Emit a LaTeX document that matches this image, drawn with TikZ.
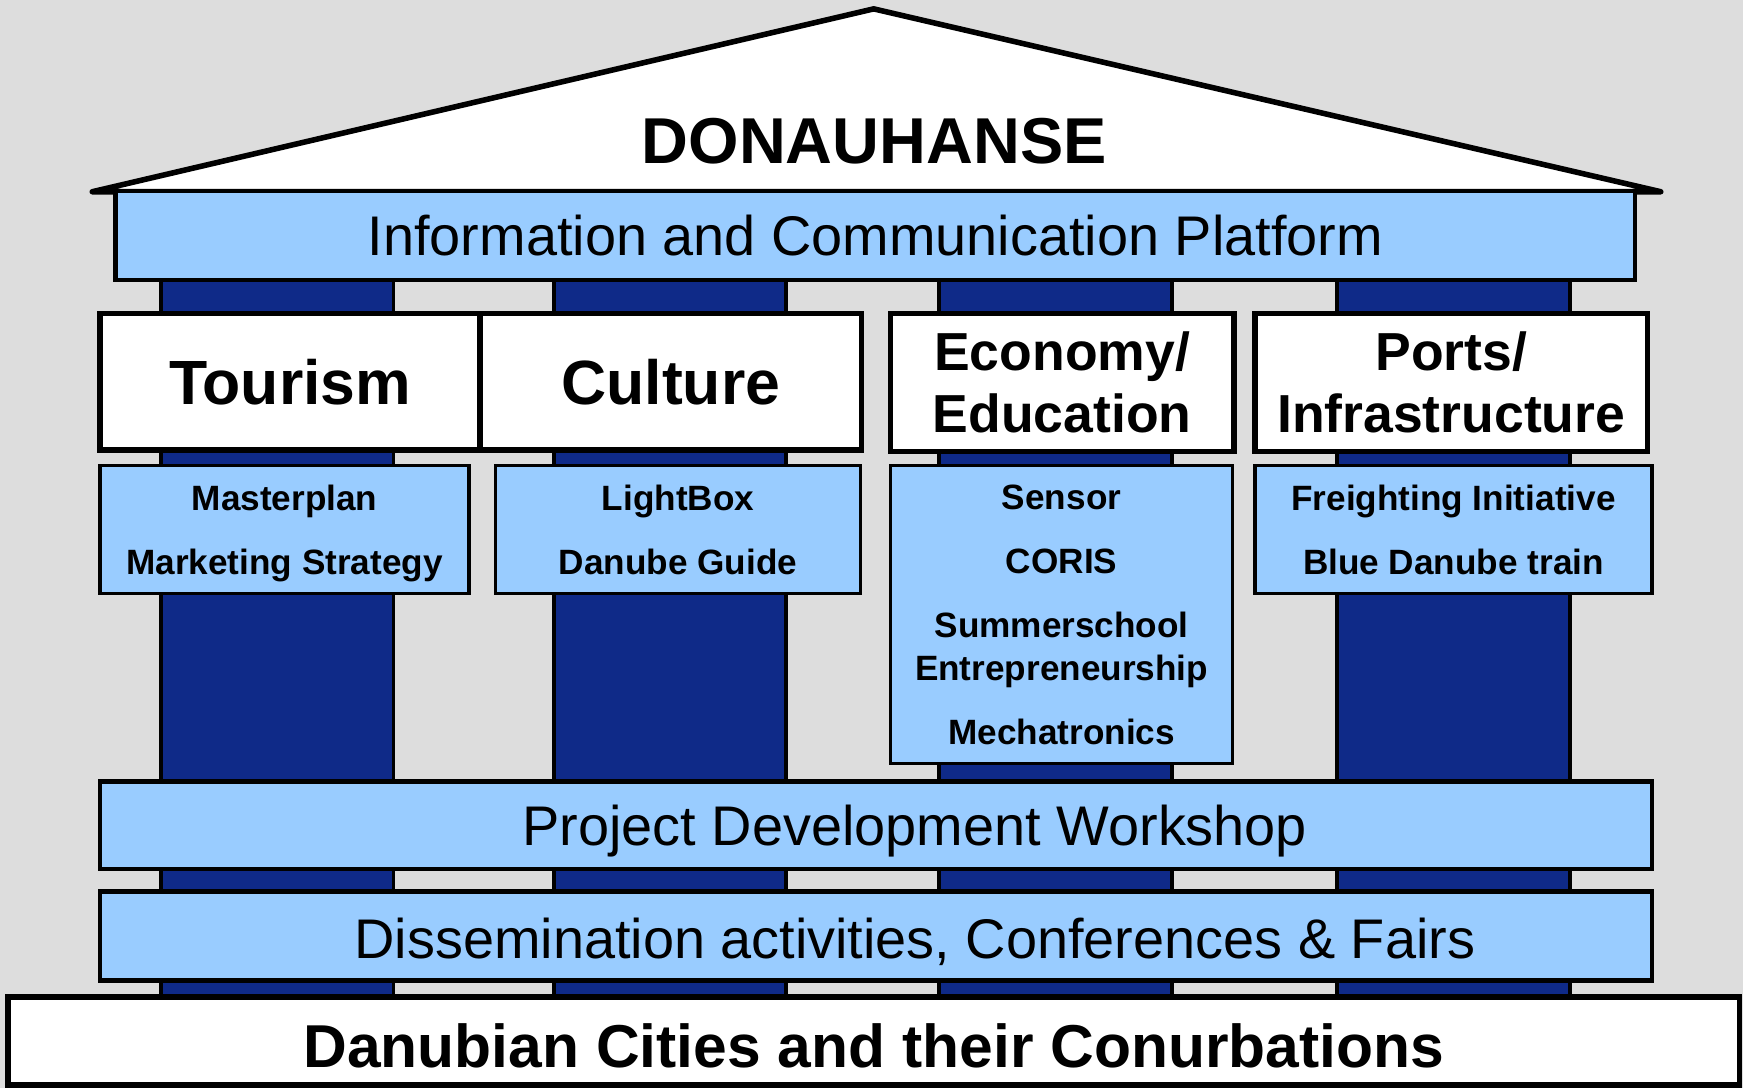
\documentclass[tikz,border=0pt]{standalone}
\usepackage{fontspec}
\setmainfont{Liberation Sans}

\definecolor{backgray}{HTML}{DDDDDD}
\definecolor{lightblue}{HTML}{99CCFF}
\definecolor{pillarblue}{HTML}{0F2A88}

\tikzstyle{pillar} = [draw=black, line width=0.35mm, fill=pillarblue]
\tikzstyle{roof} = [draw=black, line width=0.5mm, fill=white, line join=round]
\tikzstyle{title} = [font=\fontsize{16.6}{19}\selectfont\bfseries]
\tikzstyle{bar} = [rectangle, inner sep=0pt, text centered, draw=black, line width=0.4mm, fill=lightblue, font=\fontsize{14.3}{17}\selectfont]
\tikzstyle{bartext} = [inner sep=0pt, yshift=-0.5mm, font=\fontsize{14.3}{17}\selectfont]
\tikzstyle{topic} = [rectangle, inner sep=0pt, align=center, draw=black, line width=0.5mm, fill=white, font=\fontsize{16}{16}\selectfont\bfseries]
\tikzstyle{topicb} = [topic, font=\fontsize{13.7}{15.9}\selectfont\bfseries]
\tikzstyle{project} = [rectangle, inner sep=0pt, align=center, draw=black, line width=0.3mm, fill=lightblue, font=\fontsize{9}{11.1}\selectfont\bfseries]
\tikzstyle{basebox} = [rectangle, inner sep=0pt, text centered, draw=black, line width=0.5mm, fill=white, font=\fontsize{15.5}{18}\selectfont\bfseries]

\begin{document}
\begin{tikzpicture}[x=0.1mm, y=-0.1mm]
	\useasboundingbox (0,0) rectangle (1568,979);
	\fill [backgray] (0,0) rectangle (1568,979);

	% pillars behind everything
	\foreach \x in {145,498,845,1203}
		\draw [pillar] (\x,252) rectangle ++(209,645);

	% roof
	\draw [roof] (83,172.5) -- (786,8) -- (1494,172.5) -- cycle;
	\node (donauhanse) [title] at (786.5,127) {DONAUHANSE};

	\node (info) [bar, minimum width=136.7mm, minimum height=8mm] at (787.5,212) {Information and Communication Platform};

	% topics
	\node (tourism) [topic, minimum width=34.2mm, minimum height=12.3mm] at (261,343.5) {Tourism};
	\node (culture) [topic, minimum width=34.3mm, minimum height=12.3mm] at (603.5,343.5) {Culture};
	\node (economy) [topicb, minimum width=30.9mm, minimum height=12.4mm] at (955.5,344) {Economy/\\Education};
	\node (ports) [topicb, minimum width=35.3mm, minimum height=12.4mm] at (1305.5,344) {Ports/\\Infrastructure};

	% projects
	\node (ptourism) [project, minimum width=33.2mm, minimum height=11.5mm] at (256,476.5) {Masterplan\\[5.3pt]\smash{Marketing Strategy}};
	\node (pculture) [project, minimum width=32.8mm, minimum height=11.5mm] at (610,476.5) {LightBox\\[5.3pt]Danube Guide};
	\node (peconomy) [project, minimum width=30.8mm, minimum height=26.8mm] at (955,553) {Sensor\\[5.3pt]CORIS\\[5.3pt]Summerschool\\Entrepreneurship\\[5.3pt]Mechatronics};
	\node (pports) [project, minimum width=35.7mm, minimum height=11.5mm] at (1307.5,476.5) {Freighting Initiative\\[5.3pt]Blue Danube train};

	% crossbars and base
	\node (workshop) [bar, minimum width=139.6mm, minimum height=7.9mm,
		label={[bartext, name=workshoptext, xshift=3.5mm]center:Project Development Workshop}] at (788,742.5) {};
	\node (fairs) [bar, minimum width=139.6mm, minimum height=8mm,
		label={[bartext, name=fairstext, xshift=3.5mm]center:Dissemination activities, Conferences \& Fairs}] at (788,842) {};
	\node (cities) [basebox, minimum width=155.8mm, minimum height=7.9mm] at (786,936.5) {\raisebox{-1.2pt}[\height][\depth]{Danubian Cities and their Conurbations}};
\end{tikzpicture}
\end{document}
